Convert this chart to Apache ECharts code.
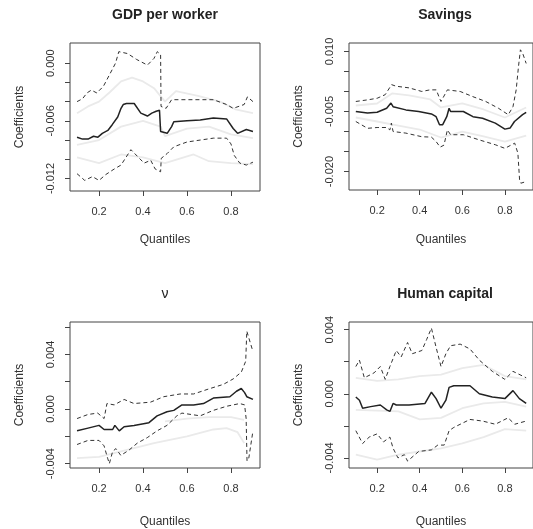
<!DOCTYPE html>
<html>
<head>
<meta charset="utf-8">
<script src="https://cdn.jsdelivr.net/npm/echarts@6/dist/echarts.min.js"></script>
<style>
html,body{margin:0;padding:0;background:#fff;}
#chart{width:533px;height:529px;}
</style>
</head>
<body>
<div id="chart"></div>
<script>
// ---------- data (quantile, coefficient) ----------
const quantileTicks = [0.2, 0.4, 0.6, 0.8];

const gdpEstimate = [[0.10,-0.0077],[0.125,-0.0079],[0.15,-0.0079],[0.175,-0.0076],[0.195,-0.0077],[0.215,-0.0073],[0.24,-0.0070],[0.26,-0.0064],[0.285,-0.0056],[0.30,-0.0047],[0.31,-0.0043],[0.325,-0.0042],[0.36,-0.0042],[0.39,-0.0052],[0.42,-0.0055],[0.44,-0.0052],[0.46,-0.0050],[0.475,-0.0049],[0.48,-0.0071],[0.51,-0.0073],[0.53,-0.0066],[0.54,-0.0061],[0.60,-0.0060],[0.66,-0.0059],[0.72,-0.0057],[0.78,-0.0058],[0.81,-0.0068],[0.83,-0.0073],[0.87,-0.0069],[0.90,-0.0071]];
const gdpUpper = [[0.10,-0.0040],[0.125,-0.0037],[0.145,-0.0031],[0.165,-0.0028],[0.19,-0.0031],[0.22,-0.0024],[0.25,-0.0011],[0.275,0.0000],[0.29,0.0012],[0.33,0.0010],[0.37,0.0004],[0.42,-0.0002],[0.45,0.0005],[0.465,0.0012],[0.48,0.0009],[0.482,-0.0045],[0.505,-0.0047],[0.53,-0.0038],[0.60,-0.0038],[0.72,-0.0038],[0.78,-0.0043],[0.81,-0.0047],[0.86,-0.0043],[0.875,-0.0035],[0.90,-0.0040]];
const gdpLower = [[0.10,-0.0115],[0.135,-0.0122],[0.17,-0.0118],[0.20,-0.0122],[0.23,-0.0116],[0.27,-0.0110],[0.30,-0.0106],[0.345,-0.0090],[0.375,-0.0097],[0.405,-0.0104],[0.435,-0.0101],[0.455,-0.0110],[0.48,-0.0113],[0.483,-0.0099],[0.51,-0.0094],[0.54,-0.0087],[0.60,-0.0082],[0.66,-0.0080],[0.72,-0.0078],[0.78,-0.0078],[0.80,-0.0084],[0.815,-0.0096],[0.84,-0.0104],[0.87,-0.0106],[0.90,-0.0103]];
const gdpGrayUpper = [[0.10,-0.0052],[0.15,-0.0045],[0.20,-0.0040],[0.25,-0.0030],[0.30,-0.0019],[0.35,-0.0015],[0.40,-0.0019],[0.45,-0.0026],[0.50,-0.0040],[0.55,-0.0029],[0.65,-0.0034],[0.75,-0.0040],[0.82,-0.0048],[0.90,-0.0052]];
const gdpGrayMiddle = [[0.10,-0.0085],[0.20,-0.0080],[0.30,-0.0066],[0.40,-0.0060],[0.48,-0.0066],[0.50,-0.0076],[0.60,-0.0068],[0.70,-0.0066],[0.80,-0.0074],[0.90,-0.0078]];
const gdpGrayLower = [[0.10,-0.0098],[0.20,-0.0104],[0.30,-0.0095],[0.40,-0.0098],[0.50,-0.0104],[0.63,-0.0095],[0.70,-0.0102],[0.80,-0.0104],[0.90,-0.0105]];
const gdpYTicks = [0, -0.002, -0.004, -0.006, -0.008, -0.010, -0.012];
const gdpYLabels = [0, -0.006, -0.012];

const savEstimate = [[0.10,-0.0050],[0.155,-0.0054],[0.20,-0.0052],[0.245,-0.0042],[0.265,-0.0029],[0.275,-0.0038],[0.335,-0.0046],[0.395,-0.0050],[0.455,-0.0056],[0.477,-0.0063],[0.493,-0.0083],[0.508,-0.0083],[0.527,-0.0063],[0.538,-0.0042],[0.545,-0.0050],[0.605,-0.0050],[0.65,-0.0063],[0.695,-0.0067],[0.755,-0.0079],[0.80,-0.0094],[0.825,-0.0091],[0.845,-0.0075],[0.883,-0.0058],[0.90,-0.0052]];
const savUpper = [[0.10,-0.0025],[0.155,-0.0021],[0.20,-0.0017],[0.238,-0.0008],[0.268,0.0017],[0.29,0.0013],[0.35,0.0009],[0.41,0.0000],[0.448,0.0004],[0.478,0.0004],[0.493,-0.0017],[0.50,-0.0025],[0.53,0.0004],[0.59,0.0000],[0.65,-0.0013],[0.71,-0.0025],[0.77,-0.0042],[0.816,-0.0058],[0.838,-0.0038],[0.853,0.0004],[0.864,0.0063],[0.873,0.0104],[0.883,0.0096],[0.90,0.0070]];
const savLower = [[0.10,-0.0075],[0.155,-0.0092],[0.20,-0.0090],[0.245,-0.0090],[0.26,-0.0096],[0.267,-0.0079],[0.275,-0.0100],[0.335,-0.0104],[0.41,-0.0113],[0.455,-0.0114],[0.477,-0.0125],[0.496,-0.0139],[0.514,-0.0134],[0.53,-0.0096],[0.545,-0.0108],[0.605,-0.0108],[0.68,-0.0121],[0.755,-0.0133],[0.80,-0.0142],[0.846,-0.0129],[0.861,-0.0154],[0.869,-0.0221],[0.875,-0.0229],[0.90,-0.0225]];
const savGrayUpper = [[0.10,-0.0035],[0.20,-0.0030],[0.27,-0.0005],[0.35,-0.0010],[0.45,-0.0020],[0.50,-0.0040],[0.60,-0.0030],[0.70,-0.0045],[0.80,-0.0065],[0.90,-0.0040]];
const savGrayLower = [[0.10,-0.0065],[0.20,-0.0075],[0.30,-0.0085],[0.40,-0.0095],[0.50,-0.0115],[0.60,-0.0100],[0.70,-0.0112],[0.80,-0.0125],[0.90,-0.0110]];
const savYTicks = [0.010, 0.005, 0, -0.005, -0.010, -0.015, -0.020];
const savYLabels = [0.010, -0.005, -0.020];

const nuEstimate = [[0.10,-0.0016],[0.15,-0.0014],[0.20,-0.0012],[0.223,-0.0015],[0.262,-0.0015],[0.272,-0.0012],[0.292,-0.0016],[0.314,-0.0013],[0.359,-0.0012],[0.427,-0.0010],[0.464,-0.0005],[0.509,-0.0002],[0.54,-0.0001],[0.577,0.0003],[0.63,0.0003],[0.675,0.0004],[0.72,0.0008],[0.795,0.0009],[0.825,0.0013],[0.847,0.0015],[0.862,0.0012],[0.872,0.0009],[0.881,0.0010],[0.90,0.0007]];
const nuUpper = [[0.10,-0.0007],[0.15,-0.0004],[0.194,-0.0003],[0.223,-0.0007],[0.236,0.0004],[0.269,0.0003],[0.314,0.0007],[0.359,0.0004],[0.434,0.0005],[0.494,0.0009],[0.569,0.0011],[0.63,0.0011],[0.705,0.0015],[0.765,0.0018],[0.81,0.0022],[0.847,0.0027],[0.867,0.0035],[0.872,0.0057],[0.881,0.0056],[0.90,0.0042]];
const nuLower = [[0.10,-0.0026],[0.15,-0.0023],[0.20,-0.0023],[0.223,-0.0027],[0.239,-0.0036],[0.247,-0.0040],[0.262,-0.0031],[0.277,-0.0029],[0.299,-0.0034],[0.337,-0.0030],[0.374,-0.0025],[0.419,-0.0021],[0.464,-0.0016],[0.509,-0.0012],[0.554,-0.0005],[0.577,-0.0003],[0.66,-0.0005],[0.72,-0.0001],[0.78,0.0002],[0.84,0.0004],[0.862,0.0003],[0.869,-0.0007],[0.873,-0.0038],[0.881,-0.0036],[0.90,-0.0016]];
const nuGrayUpper = [[0.50,-0.0009],[0.60,-0.0007],[0.70,-0.0006],[0.80,-0.0006],[0.86,-0.0008]];
const nuGrayLower = [[0.10,-0.0036],[0.20,-0.0035],[0.30,-0.0031],[0.45,-0.0025],[0.60,-0.0020],[0.72,-0.0015],[0.78,-0.0014],[0.83,-0.0017],[0.86,-0.0025]];
const nuYTicks = [0.006, 0.004, 0.002, 0, -0.002, -0.004];
const nuYLabels = [0.004, 0, -0.004];

const hcEstimate = [[0.10,-0.0002],[0.117,-0.0004],[0.132,-0.0009],[0.17,-0.0008],[0.215,-0.0007],[0.245,-0.0010],[0.26,-0.0011],[0.275,-0.0006],[0.29,-0.0007],[0.35,-0.0007],[0.425,-0.0006],[0.455,0.0001],[0.477,-0.0003],[0.50,-0.0009],[0.523,-0.0004],[0.538,0.0004],[0.56,0.0005],[0.636,0.0005],[0.68,0.0000],[0.741,-0.0002],[0.80,-0.0003],[0.838,0.0002],[0.868,-0.0003],[0.90,-0.0006]];
const hcUpper = [[0.10,0.0017],[0.117,0.0021],[0.14,0.0010],[0.185,0.0013],[0.215,0.0017],[0.238,0.0009],[0.26,0.0017],[0.29,0.0027],[0.313,0.0023],[0.343,0.0032],[0.365,0.0025],[0.41,0.0027],[0.433,0.0034],[0.455,0.0041],[0.477,0.0029],[0.50,0.0017],[0.523,0.0025],[0.545,0.0030],[0.59,0.0031],[0.636,0.0028],[0.68,0.0021],[0.741,0.0014],[0.80,0.0009],[0.838,0.0014],[0.90,0.0010]];
const hcLower = [[0.10,-0.0023],[0.132,-0.0031],[0.163,-0.0027],[0.20,-0.0025],[0.23,-0.0030],[0.26,-0.0027],[0.275,-0.0034],[0.298,-0.0040],[0.328,-0.0038],[0.343,-0.0042],[0.395,-0.0036],[0.455,-0.0035],[0.485,-0.0032],[0.515,-0.0032],[0.538,-0.0023],[0.56,-0.0021],[0.636,-0.0016],[0.695,-0.0017],[0.755,-0.0019],[0.815,-0.0015],[0.846,-0.0019],[0.90,-0.0017]];
const hcGrayUpper = [[0.10,0.0010],[0.20,0.0008],[0.30,0.0009],[0.40,0.0011],[0.50,0.0012],[0.60,0.0016],[0.70,0.0018],[0.80,0.0011],[0.90,0.0009]];
const hcGrayMiddle = [[0.10,-0.0010],[0.30,-0.0011],[0.40,-0.0016],[0.50,-0.0015],[0.60,-0.0009],[0.70,-0.0006],[0.80,-0.0005],[0.90,-0.0008]];
const hcGrayLower = [[0.10,-0.0038],[0.20,-0.0041],[0.30,-0.0038],[0.40,-0.0036],[0.50,-0.0034],[0.60,-0.0031],[0.70,-0.0027],[0.80,-0.0022],[0.90,-0.0023]];
const hcYTicks = [0.004, 0.002, 0, -0.002, -0.004];
const hcYLabels = [0.004, 0, -0.004];

// ---------- layout ----------
const FONT = 'Liberation Sans, Arial, Helvetica, sans-serif';
const panels = [
  {title:'GDP per worker', bold:true, grid:{left:70, top:43, width:190, height:148}, yMin:-0.0133, yMax:0.0021,
   yTicks:gdpYTicks, yLabels:gdpYLabels, est:gdpEstimate, up:gdpUpper, lo:gdpLower, gray:[gdpGrayUpper,gdpGrayMiddle,gdpGrayLower], xGap:43},
  {title:'Savings', bold:true, grid:{left:349, top:43, width:192, height:147}, yMin:-0.0246, yMax:0.0121,
   yTicks:savYTicks, yLabels:savYLabels, est:savEstimate, up:savUpper, lo:savLower, gray:[savGrayUpper,savGrayLower], xGap:44},
  {title:'\u03BD', bold:false, grid:{left:70, top:322, width:190, height:146}, yMin:-0.00432, yMax:0.00637,
   yTicks:nuYTicks, yLabels:nuYLabels, est:nuEstimate, up:nuUpper, lo:nuLower, gray:[nuGrayUpper,nuGrayLower], xGap:48},
  {title:'Human capital', bold:true, grid:{left:349, top:322, width:192, height:146}, yMin:-0.00463, yMax:0.00448,
   yTicks:hcYTicks, yLabels:hcYLabels, est:hcEstimate, up:hcUpper, lo:hcLower, gray:[hcGrayUpper,hcGrayMiddle,hcGrayLower], xGap:48}
];

const grids = [], xAxes = [], yAxes = [], series = [], graphics = [];
panels.forEach((p, i) => {
  grids.push(Object.assign({show:true, borderColor:'#444', borderWidth:1, backgroundColor:'transparent', containLabel:false}, p.grid));
  xAxes.push({
    type:'value', gridIndex:i, min:0.068, max:0.932,
    axisLine:{show:false, onZero:false}, splitLine:{show:false},
    axisTick:{show:true, inside:false, length:5, lineStyle:{color:'#444'}, customValues:quantileTicks},
    axisLabel:{show:true, margin:15, color:'#333', fontSize:11, fontFamily:FONT, customValues:quantileTicks, formatter:v=>v.toFixed(1)},
    name:'Quantiles', nameLocation:'middle', nameGap:p.xGap,
    nameTextStyle:{color:'#333', fontSize:12, fontFamily:FONT}
  });
  yAxes.push({
    type:'value', gridIndex:i, min:p.yMin, max:p.yMax,
    axisLine:{show:false, onZero:false}, splitLine:{show:false},
    axisTick:{show:true, inside:false, length:5, lineStyle:{color:'#444'}, customValues:p.yTicks},
    axisLabel:{show:true, rotate:90, margin:14, color:'#333', fontSize:11, fontFamily:FONT, customValues:p.yLabels, formatter:v=>v.toFixed(3)},
    name:'Coefficients', nameLocation:'middle', nameRotate:90, nameGap:44,
    nameTextStyle:{color:'#333', fontSize:12, fontFamily:FONT}
  });
  p.gray.forEach(g => series.push({type:'line', xAxisIndex:i, yAxisIndex:i, data:g, showSymbol:false, silent:true,
    lineStyle:{color:'#eaeaea', width:1.8}, z:1}));
  [p.up, p.lo].forEach(d => series.push({type:'line', xAxisIndex:i, yAxisIndex:i, data:d, showSymbol:false,
    lineStyle:{color:'#333', width:1, type:[4,3]}, z:2}));
  series.push({type:'line', xAxisIndex:i, yAxisIndex:i, data:p.est, showSymbol:false,
    lineStyle:{color:'#222', width:1.5}, z:3});
  graphics.push({type:'text', x:p.grid.left + p.grid.width/2, y:p.grid.top - 28,
    style:{text:p.title, fill:'#222', font:(p.bold?'bold ':'') + '14px ' + FONT, align:'center', verticalAlign:'middle'}});
});

const chart = echarts.init(document.getElementById('chart'));
chart.setOption({
  animation:false,
  backgroundColor:'#fff',
  grid:grids, xAxis:xAxes, yAxis:yAxes, series:series, graphic:graphics
});
</script>
</body>
</html>
